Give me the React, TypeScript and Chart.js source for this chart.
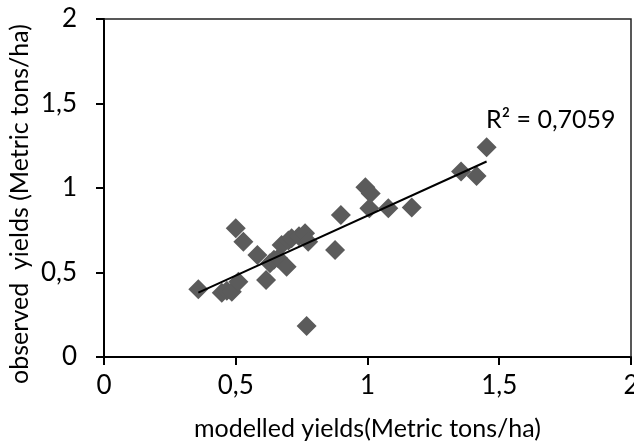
import { useEffect, useRef } from 'react';
import { Chart, registerables } from 'chart.js';

Chart.register(...registerables);

const modelledYields = [
  0.358, 0.447, 0.466, 0.485, 0.510, 0.500, 0.529, 0.582, 0.615, 0.630, 0.645,
  0.661, 0.693, 0.674, 0.700, 0.712, 0.740, 0.763, 0.775, 0.769, 0.877, 0.899,
  0.992, 1.012, 1.007, 1.079, 1.168, 1.355, 1.414, 1.452,
];
const observedYields = [
  0.401, 0.380, 0.392, 0.386, 0.446, 0.762, 0.682, 0.604, 0.456, 0.554, 0.575,
  0.584, 0.534, 0.663, 0.690, 0.702, 0.715, 0.732, 0.682, 0.183, 0.633, 0.840,
  1.004, 0.968, 0.880, 0.880, 0.884, 1.097, 1.071, 1.241,
];

const trendX = [0.358, 1.452];
const trendY = [0.381, 1.157];

const xTickValues = [0, 0.5, 1, 1.5, 2];
const xTickLabels = ['0', '0,5', '1', '1,5', '2'];
const yTickValues = [0, 0.5, 1, 1.5, 2];
const yTickLabels = ['0', '0,5', '1', '1,5', '2'];

const xTitle = 'modelled yields(Metric tons/ha)';
const yTitle = 'observed  yields (Metric tons/ha)';
const r2Text = 'R² = 0,7059';

const FONT = 'Lato, "Open Sans", sans-serif';
const FS = 25;
const TICK_FS = 26;
const CANVAS_W = 660;
const VIEW_W = 634;
const H = 444;

export default function App() {
  const ref = useRef<HTMLCanvasElement | null>(null);

  useEffect(() => {
    document.body.style.margin = '0';
    const canvas = ref.current;
    if (!canvas) return;

    const framePlugin = {
      id: 'frameAndLabel',
      afterDatasetsDraw(chart: any) {
        const { ctx, chartArea, scales } = chart;
        ctx.save();
        ctx.strokeStyle = '#222';
        ctx.lineWidth = 1.5;
        ctx.beginPath();
        ctx.moveTo(chartArea.left, chartArea.top);
        ctx.lineTo(chartArea.right, chartArea.top);
        ctx.lineTo(chartArea.right, chartArea.bottom);
        ctx.stroke();
        ctx.fillStyle = '#000';
        ctx.font = `${FS}px ${FONT}`;
        ctx.textAlign = 'left';
        ctx.textBaseline = 'middle';
        ctx.fillText(r2Text, scales.x.getPixelForValue(1.45), scales.y.getPixelForValue(1.40));
        // y-axis title (offset slightly below the axis centre, as in the original)
        ctx.translate(20, (chartArea.top + chartArea.bottom) / 2 + 16);
        ctx.rotate(-Math.PI / 2);
        ctx.textAlign = 'center';
        ctx.fillText(yTitle, 0, 0);
        ctx.restore();
      },
    };

    const chart = new Chart(canvas, {
      type: 'scatter',
      data: {
        datasets: [
          {
            label: 'yields',
            data: modelledYields.map((x, i) => ({ x, y: observedYields[i] })),
            pointStyle: 'rectRot',
            pointRadius: 10,
            pointBorderWidth: 0,
            backgroundColor: '#5b5b5b',
            borderColor: '#5b5b5b',
            order: 2,
          },
          {
            label: 'trend',
            type: 'line',
            data: trendX.map((x, i) => ({ x, y: trendY[i] })),
            borderColor: '#000',
            borderWidth: 2,
            pointRadius: 0,
            fill: false,
            order: 1,
          } as any,
        ],
      },
      options: {
        responsive: false,
        animation: false,
        layout: { padding: { top: 19, right: CANVAS_W - 631, left: 0, bottom: 0 } },
        plugins: {
          legend: { display: false },
          tooltip: { enabled: false },
        },
        scales: {
          x: {
            type: 'linear',
            min: 0,
            max: 2,
            afterBuildTicks: (s: any) => {
              s.ticks = xTickValues.map((v) => ({ value: v }));
            },
            afterFit: (s: any) => {
              s.height = 87;
              s.paddingLeft = 0;
              s.paddingRight = 0;
            },
            ticks: {
              callback: (_v: any, i: number) => xTickLabels[i],
              color: '#000',
              font: { family: FONT, size: TICK_FS },
              padding: 5,
              maxRotation: 0,
              autoSkip: false,
            },
            grid: {
              drawOnChartArea: false,
              drawTicks: true,
              tickLength: 8,
              color: '#000',
              lineWidth: 2,
            },
            border: { display: true, color: '#000', width: 2 },
            title: {
              display: true,
              text: xTitle,
              color: '#000',
              font: { family: FONT, size: FS },
              padding: { top: 0, bottom: 0 },
            },
          },
          y: {
            type: 'linear',
            min: 0,
            max: 2,
            afterBuildTicks: (s: any) => {
              s.ticks = yTickValues.map((v) => ({ value: v }));
            },
            afterFit: (s: any) => {
              s.width = 104;
              s.paddingTop = 0;
              s.paddingBottom = 0;
            },
            ticks: {
              callback: (_v: any, i: number) => yTickLabels[i],
              color: '#000',
              font: { family: FONT, size: TICK_FS },
              padding: 19,
              autoSkip: false,
            },
            grid: {
              drawOnChartArea: false,
              drawTicks: true,
              tickLength: 8,
              color: '#000',
              lineWidth: 2,
            },
            border: { display: true, color: '#000', width: 2 },
            title: { display: false },
          },
        },
      },
      plugins: [framePlugin],
    });

    return () => chart.destroy();
  }, []);

  return (
    <div style={{ position: 'absolute', left: 0, top: 0, width: VIEW_W, height: H, overflow: 'hidden' }}>
      <canvas ref={ref} width={CANVAS_W} height={H} style={{ display: 'block' }} />
    </div>
  );
}
